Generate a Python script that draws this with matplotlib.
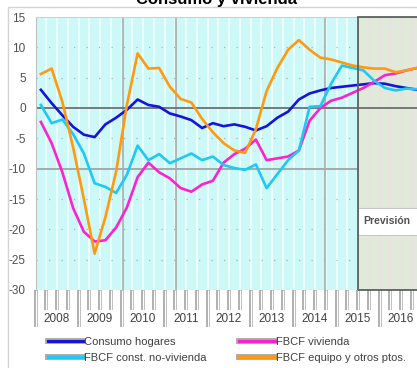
import numpy as np
import matplotlib
matplotlib.use("Agg")
import matplotlib.pyplot as plt
import matplotlib.patheffects as pe
from matplotlib.lines import Line2D
from matplotlib.patches import Rectangle
import matplotlib.transforms as mtransforms

plt.rcParams['font.family'] = ['Liberation Sans', 'DejaVu Sans']

# quarterly data 2008Q1 - 2016Q4 (% yoy)
years = [2008, 2009, 2010, 2011, 2012, 2013, 2014, 2015, 2016]
consumo = [3.0, 0.8, -1.2, -3.1, -4.4, -4.8, -2.7, -1.6, -0.3, 1.4, 0.5, 0.2,
           -0.9, -1.4, -2.0, -3.3, -2.5, -3.0, -2.7, -3.1, -3.7, -3.0, -1.6, -0.6,
           1.4, 2.4, 2.9, 3.3, 3.5, 3.7, 3.9, 4.1, 4.0, 3.6, 3.3, 3.0]
vivienda = [-2.3, -5.8, -10.6, -16.5, -20.4, -22.0, -21.8, -19.7, -16.4, -11.4, -9.0, -10.6,
            -11.6, -13.2, -13.8, -12.6, -12.0, -9.0, -7.6, -6.7, -5.2, -8.6, -8.3, -8.0,
            -7.0, -2.1, 0.0, 1.2, 1.7, 2.5, 3.3, 4.3, 5.4, 5.7, 6.2, 6.6]
no_vivienda = [0.5, -2.5, -1.9, -4.3, -7.5, -12.4, -13.0, -14.0, -11.0, -6.2, -8.6, -7.6,
               -9.1, -8.3, -7.5, -8.6, -8.0, -9.4, -9.9, -10.2, -9.3, -13.2, -10.9, -8.6,
               -7.0, 0.2, 0.3, 4.0, 7.0, 6.6, 6.2, 4.5, 3.3, 2.9, 3.2, 3.1]
equipo = [5.6, 6.5, 1.0, -6.5, -15.0, -24.0, -18.0, -10.5, 0.5, 9.0, 6.5, 6.6,
          3.5, 1.5, 0.9, -1.8, -4.0, -5.8, -7.0, -7.4, -3.5, 2.8, 6.6, 9.6,
          11.2, 9.6, 8.3, 8.0, 7.5, 7.0, 6.7, 6.5, 6.5, 5.9, 6.2, 6.6]

names = ['Consumo hogares', 'FBCF vivienda', 'FBCF const. no-vivienda', 'FBCF equipo y otros ptos.']
colors = ['#1414dc', '#ff20d0', '#20c8f4', '#ff9a10']
inicio_prevision = 2015.5

x = years[0] + (np.arange(len(consumo)) + 0.5) / 4

fig = plt.figure(figsize=(4.17, 3.68), dpi=100)
ax = fig.add_axes([35.5 / 417, 78 / 368, 387 / 417, 273 / 368])
ax.set_xlim(2008, 2017)
ax.set_ylim(-30, 15)
ax.set_facecolor('#ccf8f8')

# white stripes in the background
for q in np.arange(2008, 2017.01, 0.25):
    ax.axvline(q, color='#f2ffff', lw=1.2, zorder=0.5)

# forecast area
ax.add_patch(Rectangle((inicio_prevision, -30), 3, 45, facecolor='#e0e9da',
                       edgecolor='none', zorder=0.8))
for q in np.arange(inicio_prevision, 2017.01, 0.25):
    ax.axvline(q, color='#eee0e2', lw=1.0, zorder=0.9)
ax.add_patch(Rectangle((inicio_prevision, -21), 3, 4.5, facecolor='white',
                       edgecolor='#c8c8c8', lw=0.8, zorder=1))
ax.text(inicio_prevision + 0.12, -18.7, 'Previsión', fontsize=7.5, fontweight='bold',
        color='#505050', va='center', zorder=6)

# grid
for v in [10, 5, -5, -15, -20, -25]:
    ax.plot([2008, inicio_prevision], [v, v], color='#a8b4b4', lw=0.9,
            ls=(0, (1, 9)), zorder=1)
ax.plot([2008, inicio_prevision], [-10, -10], color='#a0a4a4', lw=1.3, zorder=1)
for v in [2010.03, 2011.26, 2014.74]:
    ax.axvline(v, color='#a8acac', lw=1.2, zorder=1)
ax.axhline(0, color='#6e7070', lw=1.3, zorder=1.5)

for serie, name, c in zip([consumo, vivienda, no_vivienda, equipo], names, colors):
    ax.plot(x, serie, color=c, lw=1.9, label=name, zorder=3, solid_joinstyle='round')

# forecast frame on top
ax.add_patch(Rectangle((inicio_prevision, -30), 3, 45, facecolor='none',
                       edgecolor='#5c6060', lw=1.3, zorder=5, clip_on=False))

for s in ['right', 'bottom']:
    ax.spines[s].set_visible(False)
ax.spines['left'].set_color('#c0c0c0')
ax.spines['top'].set_color('#d0d0d0')

ax.set_yticks(range(-30, 16, 5))
ax.set_yticklabels([str(v) for v in range(-30, 16, 5)], fontsize=8.5, color='#505050')
ax.tick_params(axis='y', length=0, pad=7)
ax.set_xticks([])

# category ticks below the axis
trans = mtransforms.blended_transform_factory(ax.transData, ax.transAxes)
for q in np.arange(2008, 2017.01, 0.25):
    largo = 0.135 if q == int(q) else 0.075
    ax.plot([q, q], [0, -largo], transform=trans, color='#a0a0a0', lw=2.6,
            clip_on=False, solid_capstyle='butt')
    ax.plot([q, q], [0, -largo], transform=trans, color='white', lw=1.0,
            clip_on=False, solid_capstyle='butt')
for y in years:
    ax.text(y + 0.5, -0.106, str(y), transform=trans, ha='center', va='center',
            fontsize=8.5, color='#404040')

# outer frame and cut title
fig.add_artist(Rectangle((8 / 417, -0.1), 1.2, 1 - 7 / 368 + 0.1, transform=fig.transFigure,
                         facecolor='none', edgecolor='#d4d4d4', lw=1))
fig.text(216 / 417, 1 - 4 / 368, 'Consumo y vivienda', ha='center', va='baseline',
         fontsize=12, fontweight='bold', color='black')

handles = [Line2D([], [], color=c, lw=2.2,
                  path_effects=[pe.Stroke(linewidth=4.2, foreground='#a8a8a8'), pe.Normal()])
           for c in colors]
order = [0, 2, 1, 3]
fig.legend([handles[i] for i in order], [names[i] for i in order], ncol=2,
           loc='upper left', bbox_to_anchor=(42 / 417, 1 - 331 / 368), frameon=False,
           fontsize=8.0, handlelength=3.2, handletextpad=0.1, columnspacing=2.9,
           labelspacing=0.55, borderpad=0, labelcolor='#404040')

fig.savefig('out.png', dpi=100)
